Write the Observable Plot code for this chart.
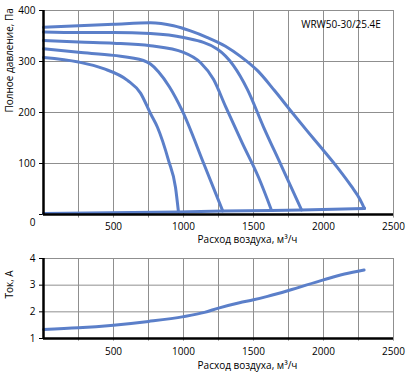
<!DOCTYPE html>
<html><head><meta charset="utf-8">
<script src="https://cdn.jsdelivr.net/npm/d3@7"></script>
<script src="https://cdn.jsdelivr.net/npm/@observablehq/plot@0.6"></script>
<style>body{margin:0;background:#fff;font-family:"Open Sans",sans-serif} svg{display:block}</style>
</head><body><div id="c"></div>
<script>
// Data (air flow m³/h, pressure Pa)
const xTickLabels = [500, 1000, 1500, 2000, 2500];
const xGrid = [250, 500, 750, 1000, 1250, 1500, 1750, 2000, 2250, 2500];
const pTicks = [0, 100, 200, 300, 400];
const iTicks = [1, 2, 3, 4];
const modelName = "WRW50-30/25.4E";

const curveA = [[0,367],[250,370],[500,373],[764,376],[929,370],[1050,360],[1171,347],[1300,330],[1407,310],[1529,282],[1650,243],[1764,204],[1880,165],[1993,128],[2100,92],[2200,55],[2260,30],[2285,16],[2293,12]];
const curveB = [[0,358],[250,357],[500,357],[764,355],[1000,347],[1243,324],[1357,292],[1457,245],[1571,172],[1700,95],[1843,9]];
const curveC = [[0,341],[250,338],[500,336],[764,331],[1000,318],[1121,298],[1214,265],[1300,212],[1420,140],[1536,73],[1629,8]];
const curveD = [[0,325],[250,318],[500,312],[714,302],[764,295],[821,280],[900,250],[990,204],[1150,96],[1280,7]];
const curveE = [[0,308],[250,299],[429,286],[600,263],[693,238],[764,198],[814,171],[893,106],[943,53],[964,5]];
const baseLine = [[0,2],[964,5],[1280,7],[1629,8],[1843,9],[2293,12]];

// Current (A)
const currentCurve = [[0,1.34],[250,1.40],[500,1.50],[750,1.64],[1000,1.82],[1150,1.98],[1250,2.14],[1400,2.34],[1500,2.45],[1600,2.58],[1750,2.80],[2000,3.20],[2150,3.42],[2290,3.57]];

const color = "#5B7FC9";
const grid = "#8f8f8f";
const style = {fontFamily: "'Open Sans', sans-serif", fontSize: "10px", color: "#000", background: "#fff", overflow: "visible"};
const lineOpts = {x: d => d[0], y: d => d[1], stroke: color, strokeWidth: 3, curve: "monotone-x", strokeLinejoin: "round", strokeLinecap: "round"};
const fmt = d => String(d);

const topChart = Plot.plot({
  width: 408, height: 245, marginLeft: 43, marginRight: 15, marginTop: 10, marginBottom: 31,
  style,
  x: {domain: [0, 2500]},
  y: {domain: [0, 400]},
  marks: [
    Plot.ruleX(xGrid, {y1: -7, y2: 400, stroke: grid, strokeWidth: 1}),
    Plot.ruleY(pTicks.filter(d => d > 0), {x1: 0, x2: 2500, stroke: grid, strokeWidth: 1}),
    Plot.axisX(xTickLabels, {tickSize: 0, tickPadding: 8, fontSize: 10, tickFormat: fmt}),
    Plot.axisY(pTicks, {tickSize: 4, tickPadding: 4, tickFormat: d => d === 0 ? "" : String(d), label: null, stroke: "#000"}),
    Plot.text(["0"], {x: 0, frameAnchor: "bottom", dx: -11, dy: 11, fontSize: 10}),
    Plot.text(["Расход воздуха, м³/ч"], {x: 1457, frameAnchor: "bottom", dy: 28, fontSize: 10}),
    Plot.text(["Полное давление, Па"], {frameAnchor: "left", dx: -34, rotate: -90, fontSize: 10}),
    Plot.text([modelName], {x: 2410, y: 372, textAnchor: "end", fontSize: 10}),
    Plot.line(baseLine, {...lineOpts, curve: "linear"}),
    Plot.line(curveE, lineOpts),
    Plot.line(curveD, lineOpts),
    Plot.line(curveC, lineOpts),
    Plot.line(curveB, lineOpts),
    Plot.line(curveA, lineOpts),
    Plot.ruleX([0], {y1: 0, y2: 400, stroke: "#000", strokeWidth: 2.5}),
    Plot.ruleY([0], {x1: 0, x2: 2500, stroke: "#000", strokeWidth: 2.5})
  ]
});

const bottomChart = Plot.plot({
  width: 408, height: 130, marginLeft: 43, marginRight: 15, marginTop: 13, marginBottom: 37,
  style,
  x: {domain: [0, 2500]},
  y: {domain: [1, 4]},
  marks: [
    Plot.ruleX(xGrid, {y1: 0.9, y2: 4, stroke: grid, strokeWidth: 1}),
    Plot.ruleY(iTicks.filter(d => d > 1), {x1: 0, x2: 2500, stroke: grid, strokeWidth: 1}),
    Plot.axisX(xTickLabels, {tickSize: 0, tickPadding: 9, fontSize: 10, tickFormat: fmt}),
    Plot.axisY(iTicks, {tickSize: 4, tickPadding: 4, label: null, stroke: "#000", tickFormat: fmt}),
    Plot.text(["Расход воздуха, м³/ч"], {x: 1457, frameAnchor: "bottom", dy: 30, fontSize: 10}),
    Plot.text(["Ток, А"], {frameAnchor: "left", dx: -34, rotate: -90, fontSize: 10}),
    Plot.line(currentCurve, lineOpts),
    Plot.ruleX([0], {y1: 1, y2: 4, stroke: "#000", strokeWidth: 2.5}),
    Plot.ruleY([1], {x1: 0, x2: 2500, stroke: "#000", strokeWidth: 2.5})
  ]
});

document.getElementById("c").append(topChart, bottomChart);
</script>
</body></html>
